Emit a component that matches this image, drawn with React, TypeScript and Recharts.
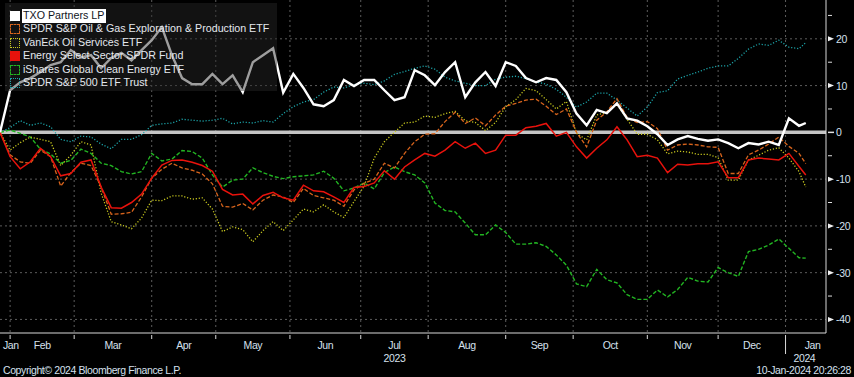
import React from "react";
import { LineChart, Line, XAxis, YAxis, CartesianGrid, ReferenceLine } from "recharts";

// trading-day index since 27-Jan-2023 (sampled every 3 sessions)
const days = [
  0, 3, 6, 9, 12, 15, 18, 21, 24, 27,
  30, 33, 36, 39, 42, 45, 48, 51, 54, 57,
  60, 63, 66, 69, 72, 75, 78, 81, 84, 87,
  90, 93, 96, 99, 102, 105, 108, 111, 114, 117,
  120, 123, 126, 129, 132, 135, 138, 141, 144, 147,
  150, 153, 156, 159, 162, 165, 168, 171, 174, 177,
  180, 183, 186, 189, 192, 195, 198, 201, 204, 207,
  210, 213, 216, 219, 222, 225, 228, 231, 234, 237,
  239,
];

// % change since start
const txo = [
  0, 9, 10.7, 11.6, 12.9, 14.4, 15, 17.6, 16, 16.5,
  13.7, 15.9, 17, 15.4, 17.6, 19.7, 22.5, 16.5, 11.6, 10.3,
  10.3, 12.5, 10.3, 12.2, 8.6, 15, 16.5, 18, 8.5, 12.5,
  9.5, 6, 5.6, 6.9, 11.2, 9.9, 11.2, 11.2, 9, 6.9,
  7.5, 13.3, 12.2, 10.1, 12.9, 15, 7.5, 10.7, 12.9, 9.9,
  15, 14.2, 11.6, 10.7, 11.6, 11.2, 8.6, 4, 1.5, 4.8,
  4.1, 6.2, 3, 2.5, 1.3, -0.4, -2.7, -1.5, -0.8, -1.4,
  -1.8, -1.5, -2.3, -3.4, -2.3, -2.6, -2, -2.7, 3, 1.4,
  2,
];
const xop = [
  0, -4.8, -6.3, -6.6, -3.8, -5.2, -11.5, -8.6, -6.6, -7.1,
  -11.7, -17.5, -17.4, -17.1, -13.8, -9.8, -7.9, -6.6, -7.6, -8.1,
  -8.9, -11, -15.8, -16, -15.2, -16.6, -14.5, -13.4, -13.8, -15,
  -12, -13.5, -14, -14.5, -15.8, -12.3, -10.9, -10, -6.6, -7.6,
  -4.5, -2, -0.4, -0.3, 2.3, 4.3, 1.9, 3.1, 1.4, 3.7,
  5.6, 6.2, 6.9, 7.1, 5.6, 3.8, 5, 0, -3.1, 2.6,
  4.4, 7.2, 3.2, 2.1, 2.3, 0.8, -3.8, -2.7, -2.5, -2.7,
  -3.1, -3.2, -8.8, -8.8, -4.8, -3.8, -2.5, -1, -3, -4.5,
  -6.7,
];
const oih = [
  0, -3.8, -2.2, -1, -1.5, -2, -7.1, -4.9, -2, -2.7,
  -13, -19.1, -19.8, -20.6, -18.3, -14.5, -14.6, -13.6, -13.6, -14.3,
  -14, -16.4, -21.2, -20.2, -20.8, -23.4, -21, -19.1, -21, -18.7,
  -16.4, -17, -15.5, -17, -18.2, -14.8, -11.5, -5.5, -2, 0,
  2, 2.2, 3.5, 3.2, 4, 4.5, 2.5, 2.1, 0.4, 2.1,
  5.5, 7, 9.4, 8.9, 7, 5, 6.6, -0.2, -1.6, 3.7,
  4.3, 6, 2.8, -0.4, -0.4, -1.6, -4.6, -4, -4.2, -4.7,
  -4.7, -5.4, -10.2, -10.2, -5.9, -4.9, -3.8, -3.3, -5.5, -8.4,
  -11.7,
];
const xle = [
  0, -5.2, -7.8, -6.3, -3.4, -5.2, -9.3, -8.8, -6.4, -5.9,
  -11.7, -16.1, -16.2, -15, -13.2, -9.8, -7, -6, -5.9, -6.4,
  -7.1, -8.3, -12.2, -13.4, -13.2, -15.3, -13.5, -12.8, -14, -14.5,
  -11.3, -12.5, -12.7, -13.8, -15, -11.8, -11.6, -10.8, -8.2, -10,
  -7.4, -5.9, -4.5, -5.1, -3.8, -2, -3.4, -2.3, -4.5, -3.8,
  -0.6, -0.6, 1, 1.3, 1.9, -0.8, 0, -3.1, -5.5, -3.4,
  -1.6, 1.2, -1.6, -5.2, -4.9, -5.5, -8.6, -6.8, -7, -6.7,
  -6.7, -6.3, -9.7, -9.7, -5.9, -5.5, -5.7, -5.9, -4.5, -7.3,
  -9.1,
];
const icln = [
  0, 0.5, -0.2, -1, -3.6, -4.6, -6.6, -6, -3.6, -4.5,
  -6.6, -7.1, -8.4, -8.9, -8.4, -4.5, -6.1, -5.7, -3.9, -4.1,
  -5.5, -9.1, -11.7, -10.2, -10, -7.6, -8.6, -9.4, -9.9, -9.5,
  -9.3, -9.1, -8.3, -9.8, -12.5, -11.9, -10.8, -12.1, -8.6, -7.4,
  -8.4, -9.1, -10.8, -15.1, -16.7, -17, -19.4, -21.9, -21.9, -19.8,
  -21.4, -23.9, -23.9, -23.6, -24.4, -26.2, -28.4, -32.4, -33, -29.3,
  -31.5, -32.2, -34.7, -35.7, -35.7, -33.7, -35.2, -33.6, -31, -31.8,
  -32, -28.9, -30, -30.8, -25.5, -25, -24.1, -22.8, -24.8, -26.8,
  -26.9,
];
const spy = [
  0, 1, 2.5, 1.5, 2, 1.2, -1.5, -2, -0.8, -1,
  -2.5, -3.5, -1.5, -1.5, -0.5, 1.5, 1.8, 2, 2.8, 2.6,
  2.4, 2.6, 3, 1.8, 2.2, 2, 2.5, 2.2, 4, 5.5,
  6.5, 7, 8.6, 9.7, 9.5, 10.2, 10.5, 10.2, 11, 12.4,
  13, 13.7, 14.2, 13.5, 11.8, 11, 10.5, 10, 10, 11.4,
  11.8, 12, 11.5, 10.8, 10.3, 9.2, 7.5, 5.4, 6.5, 8.4,
  8.4, 6.9, 5.2, 3.5, 5.4, 8.5, 8.9, 11.4, 12.2, 12.9,
  13.7, 14.2, 14.2, 15.8, 17.8, 18.9, 18.6, 19.7, 18.2, 17.9,
  19.2,
];

// month boundaries (first session of each month) and label positions
const monthStarts = [3, 22, 45, 64, 86, 107, 127, 150, 170, 192, 213, 233];
const yearStart = 233;
const monthLabels = ["Jan", "Feb", "Mar", "Apr", "May", "Jun", "Jul", "Aug", "Sep", "Oct", "Nov", "Dec", "Jan"];
const labelPos = [3.2, 12.5, 33.5, 54.5, 75, 96.5, 117, 138.5, 160, 181, 202.5, 223, 241];
const yearLabels: Record<number, string> = { 117: "2023" };

const yTicks = [-40, -35, -30, -25, -20, -15, -10, -5, 0, 5, 10, 15, 20, 25];
const yGrid = [20, 10, -10, -20, -30, -40];

const series = [
  { key: "spy", name: "SPDR S&P 500 ETF Trust", color: "#1ba3a8", dash: "1.2 1.8", width: 1.3, box: "dotted" },
  { key: "icln", name: "iShares Global Clean Energy ETF", color: "#22b422", dash: "4 2", width: 1.4, box: "dashed" },
  { key: "oih", name: "VanEck Oil Services ETF", color: "#c8c81e", dash: "1.2 1.8", width: 1.3, box: "dotted" },
  { key: "xop", name: "SPDR S&P Oil & Gas Exploration & Production ETF", color: "#d8641c", dash: "4 2", width: 1.3, box: "dashed" },
  { key: "xle", name: "Energy Select Sector SPDR Fund", color: "#e8120c", dash: undefined, width: 1.5, box: "fill" },
  { key: "txo", name: "TXO Partners LP", color: "#ffffff", dash: undefined, width: 2.4, box: "fill" },
];
const legendOrder = ["txo", "xop", "oih", "xle", "icln", "spy"];

const data = days.map((d, i) => ({
  day: d,
  txo: txo[i],
  xop: xop[i],
  oih: oih[i],
  xle: xle[i],
  icln: icln[i],
  spy: spy[i],
}));

const FONT = "'Liberation Sans', Arial, sans-serif";
const TXT = "#d6e0ee";

function XTick(props: any) {
  const { x, y, payload } = props;
  const v = payload.value;
  if (monthStarts.includes(v)) {
    if (v === yearStart) {
      return (
        <g>
          <line x1={x} x2={x} y1={y} y2={y + 19} stroke="#d8d8d8" />
          <text x={x + 8} y={y + 27} fill={TXT} fontSize={10.5} fontFamily={FONT} letterSpacing={-0.4}>2024</text>
        </g>
      );
    }
    return <line x1={x} x2={x} y1={y} y2={y + 4} stroke="#d8d8d8" />;
  }
  const k = labelPos.indexOf(v);
  if (k < 0) return null;
  return (
    <g>
      <text x={x} y={y + 13.5} textAnchor="middle" fill={TXT} fontSize={10.5} fontFamily={FONT} letterSpacing={-0.4}>
        {monthLabels[k]}
      </text>
      {yearLabels[v] && (
        <text x={x} y={y + 27} textAnchor="middle" fill={TXT} fontSize={10.5} fontFamily={FONT} letterSpacing={-0.4}>
          {yearLabels[v]}
        </text>
      )}
    </g>
  );
}

function YTick(props: any) {
  const { x, y, payload } = props;
  const v = payload.value;
  if (v % 10 !== 0) return <line x1={x} x2={x + 4} y1={y} y2={y} stroke="#e0e0e0" />;
  return (
    <g>
      {v === 0 ? (
        <line x1={x} x2={x + 6} y1={y} y2={y} stroke="#e0e0e0" strokeWidth={1.5} />
      ) : (
        <path d={`M${x},${y - 2.5} L${x + 6},${y} L${x},${y + 2.5} Z`} fill="#f0f0f0" />
      )}
      <text x={x + 8} y={y + 4} fill={TXT} fontSize={10.5} fontFamily={FONT} letterSpacing={-0.3}>
        {v}
      </text>
    </g>
  );
}

export default function App() {
  const xTicks = [...monthStarts, ...labelPos].sort((a, b) => a - b);
  return (
    <div style={{ position: "absolute", left: 0, top: 0, width: 854, height: 377, background: "#000", overflow: "hidden" }}>
      <LineChart width={854} height={377} data={data} margin={{ top: 0, right: 0, bottom: 0, left: 0 }}>
        <CartesianGrid
          stroke="#5c5c5c"
          strokeDasharray="2 3"
          horizontalValues={yGrid}
          verticalValues={monthStarts}
        />
        <XAxis
          dataKey="day"
          type="number"
          domain={[0, 245]}
          ticks={xTicks}
          interval={0}
          height={44}
          tickSize={0}
          tickLine={false}
          axisLine={{ stroke: "#d8d8d8" }}
          tick={<XTick />}
          allowDataOverflow
        />
        <YAxis
          orientation="right"
          type="number"
          domain={[-42.9, 28.3]}
          ticks={yTicks}
          interval={0}
          width={28}
          tickSize={0}
          tickLine={false}
          axisLine={{ stroke: "#d8d8d8" }}
          tick={<YTick />}
          allowDataOverflow
        />
        <ReferenceLine y={0} stroke="#c4c4c4" strokeWidth={3.5} />
        {series.map((s) => (
          <Line
            key={s.key}
            dataKey={s.key}
            type="linear"
            stroke={s.color}
            strokeWidth={s.width}
            strokeDasharray={s.dash}
            dot={false}
            activeDot={false}
            isAnimationActive={false}
          />
        ))}
      </LineChart>

      <div
        style={{
          position: "absolute",
          left: 5,
          top: 3,
          width: 272,
          height: 88,
          background: "rgba(40,40,40,0.45)",
          fontFamily: FONT,
          fontSize: 10.7,
          color: "#e4e8ee",
        }}
      >
        {legendOrder.map((k, i) => {
          const s = series.find((q) => q.key === k)!;
          const box: React.CSSProperties =
            s.box === "fill"
              ? { background: s.color }
              : { border: `1px ${s.box} ${s.color}`, boxSizing: "border-box" };
          return (
            <div key={k} style={{ position: "absolute", left: 0, top: 5.5 + i * 13.5, height: 13, width: 272 }}>
              <div style={{ position: "absolute", left: 5, top: 2, width: 10, height: 10, ...box }} />
              <div
                style={{
                  position: "absolute",
                  left: k === "txo" ? 17 : 18,
                  top: 0,
                  lineHeight: "13px",
                  whiteSpace: "nowrap",
                  padding: k === "txo" ? "0 2px 1px 1px" : 0,
                  background: k === "txo" ? "#ffffff" : "transparent",
                  color: k === "txo" ? "#10141c" : undefined,
                }}
              >
                {s.name}
              </div>
            </div>
          );
        })}
      </div>

      <div style={{ position: "absolute", left: 3, top: 364, fontFamily: FONT, fontSize: 10.5, letterSpacing: -0.4, color: TXT, whiteSpace: "nowrap" }}>
        Copyright© 2024 Bloomberg Finance L.P.
      </div>
      <div style={{ position: "absolute", right: 3, top: 364, fontFamily: FONT, fontSize: 10.5, letterSpacing: -0.4, color: TXT, whiteSpace: "nowrap" }}>
        10-Jan-2024 20:26:28
      </div>
    </div>
  );
}
